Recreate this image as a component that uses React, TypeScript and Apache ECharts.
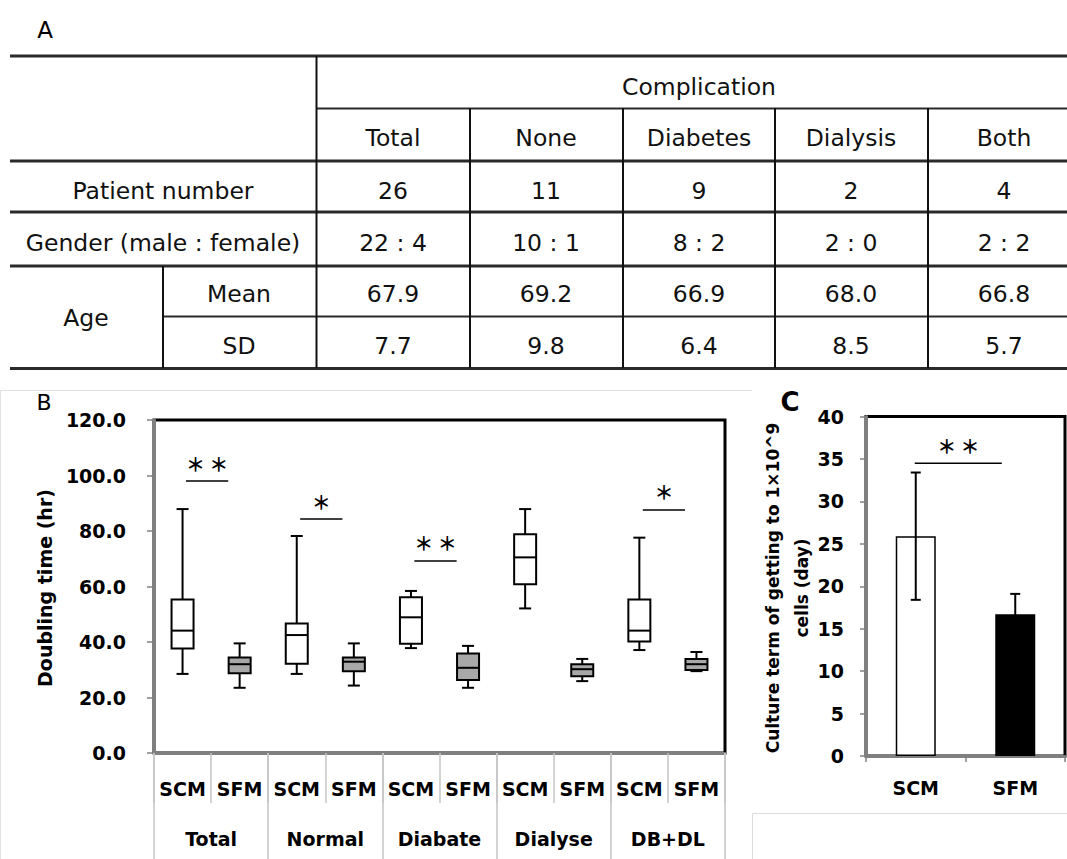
import React, { useEffect, useRef } from "react";
import * as echarts from "echarts";

// ---------- Panel A: table ----------
const TABLE_TITLE = "Complication";
const TABLE_COLS = ["Total", "None", "Diabetes", "Dialysis", "Both"];
const ROW_PATIENT = "Patient number";
const ROW_GENDER = "Gender (male : female)";
const ROW_AGE = "Age";
const ROW_MEAN = "Mean";
const ROW_SD = "SD";
const PATIENTS = ["26", "11", "9", "2", "4"];
const GENDER = ["22 : 4", "10 : 1", "8 : 2", "2 : 0", "2 : 2"];
const AGE_MEAN = ["67.9", "69.2", "66.9", "68.0", "66.8"];
const AGE_SD = ["7.7", "9.8", "6.4", "8.5", "5.7"];

// ---------- Panel B: box plot ----------
const GROUPS = ["Total", "Normal", "Diabate", "Dialyse", "DB+DL"];
const MEDIA = ["SCM", "SFM"];
// [min, Q1, median, Q3, max]
const SCM_BOX = [
  [28.5, 37.7, 44.1, 55.3, 87.9],
  [28.5, 32.2, 42.5, 46.7, 78.2],
  [37.8, 39.4, 48.9, 56.1, 58.4],
  [52.1, 60.8, 70.5, 78.8, 87.9],
  [37.1, 40.2, 44.1, 55.3, 77.6],
];
const SFM_BOX = [
  [23.5, 28.7, 32.0, 34.4, 39.5],
  [24.3, 29.5, 32.9, 34.4, 39.5],
  [23.5, 26.3, 30.7, 35.9, 38.6],
  [25.9, 27.7, 30.2, 32.0, 33.9],
  [29.5, 29.9, 32.0, 33.9, 36.4],
];
const B_SIG_GROUP = [0, 1, 2, 4];
const B_SIG_LEVEL = [98.0, 84.3, 69.2, 87.6];
const B_SIG_LABEL = ["＊ ＊", "＊", "＊ ＊", "＊"];
const B_Y_TITLE = "Doubling time (hr)";

// ---------- Panel C: bar chart ----------
const C_CATS = ["SCM", "SFM"];
const C_MEAN = [25.9, 16.7];
const C_ERR = [7.5, 2.4];
const C_SIG_LEVEL = 34.5;
const C_SIG_LABEL = "＊ ＊";
const C_Y_TITLE_1 = "Culture term of getting to 1×10^9";
const C_Y_TITLE_2 = "cells (day)";

const FONT = '"DejaVu Sans", sans-serif';
const STAR_FONT = '"Noto Sans CJK JP", sans-serif';

function buildTableGraphics(): any[] {
  const els: any[] = [];
  const dark = "#2a2a2a";
  const hLines: [number, number, number, number][] = [
    [56, 10, 1067, 3],
    [108.5, 316, 1067, 2],
    [161, 10, 1067, 3],
    [212, 10, 1067, 3],
    [266, 10, 1067, 3],
    [316.5, 163, 1067, 2],
    [368.5, 10, 1067, 3],
  ];
  hLines.forEach(([y, x1, x2, w]) =>
    els.push({ type: "line", shape: { x1, y1: y, x2, y2: y }, style: { stroke: dark, lineWidth: w } })
  );
  const vLines: [number, number, number][] = [
    [316.5, 56, 368],
    [163, 266, 368],
    [470, 108, 368],
    [623, 108, 368],
    [775, 108, 368],
    [928, 108, 368],
  ];
  vLines.forEach(([x, y1, y2]) =>
    els.push({ type: "line", shape: { x1: x, y1, x2: x, y2 }, style: { stroke: "#111", lineWidth: 2 } })
  );
  const txt = (text: string, x: number, y: number) =>
    els.push({
      type: "text",
      x,
      y,
      style: { text, fill: "#111", fontSize: 23.5, fontFamily: FONT, align: "center", verticalAlign: "middle" },
    });
  txt(TABLE_TITLE, 699, 87);
  const colX = [393, 546, 699, 851, 1004];
  TABLE_COLS.forEach((c, i) => txt(c, colX[i], 138));
  txt(ROW_PATIENT, 163, 191);
  PATIENTS.forEach((c, i) => txt(c, colX[i], 191));
  txt(ROW_GENDER, 163, 243);
  GENDER.forEach((c, i) => txt(c, colX[i], 243));
  txt(ROW_AGE, 86, 318);
  txt(ROW_MEAN, 239, 294);
  AGE_MEAN.forEach((c, i) => txt(c, colX[i], 294));
  txt(ROW_SD, 239, 346);
  AGE_SD.forEach((c, i) => txt(c, colX[i], 346));
  return els;
}

export default function App() {
  const ref = useRef<HTMLDivElement>(null);

  useEffect(() => {
    if (!ref.current) return;
    const chart = echarts.init(ref.current, undefined, { renderer: "svg" });

    const bCats: string[] = [];
    const boxData: number[][] = [];
    GROUPS.forEach((g, gi) => {
      MEDIA.forEach((m, mi) => {
        bCats.push(m);
        const v = mi === 0 ? SCM_BOX[gi] : SFM_BOX[gi];
        boxData.push([gi * 2 + mi, ...v, mi]);
      });
    });
    const bSigData = B_SIG_GROUP.map((g, i) => [g * 2, B_SIG_LEVEL[i]]);

    const axisGray = "#808080";
    const sepGray = "#c4c4c4";
    const boldLabel = { fontSize: 19, fontWeight: "bold", color: "#000", fontFamily: FONT };
    const starStyle = { fill: "#000", fontSize: 19, fontWeight: "bold", fontFamily: STAR_FONT, align: "center", verticalAlign: "middle" };

    const option: any = {
      animation: false,
      backgroundColor: "#ffffff",
      textStyle: { fontFamily: FONT },
      grid: [
        { left: 154, top: 420, width: 571, height: 333, show: true, borderColor: "#000", borderWidth: 3, backgroundColor: "rgba(0,0,0,0)" },
        { left: 866, top: 416.5, width: 199, height: 339.5, show: true, borderColor: "#000", borderWidth: 3, backgroundColor: "rgba(0,0,0,0)" },
      ],
      xAxis: [
        {
          type: "category",
          gridIndex: 0,
          data: bCats,
          axisLine: { lineStyle: { color: axisGray, width: 3 } },
          axisTick: { show: true, interval: 0, length: 50, lineStyle: { color: sepGray, width: 1.5 } },
          axisLabel: { interval: 0, margin: 26, ...boldLabel },
        },
        {
          type: "category",
          gridIndex: 0,
          position: "bottom",
          data: GROUPS,
          axisLine: { show: false },
          axisTick: { show: true, interval: 0, length: 110, lineStyle: { color: sepGray, width: 1.5 } },
          axisLabel: { interval: 0, margin: 76, ...boldLabel },
        },
        {
          type: "category",
          gridIndex: 1,
          data: C_CATS,
          axisLine: { lineStyle: { color: axisGray, width: 3 } },
          axisTick: { show: true, interval: 0, length: 6, lineStyle: { color: axisGray, width: 1.5 } },
          axisLabel: { interval: 0, margin: 22, ...boldLabel },
        },
      ],
      yAxis: [
        {
          type: "value",
          gridIndex: 0,
          min: 0,
          max: 120,
          interval: 20,
          axisLine: { show: true, lineStyle: { color: axisGray, width: 3 } },
          axisTick: { show: true, length: 7, lineStyle: { color: axisGray, width: 1.5 } },
          splitLine: { show: false },
          axisLabel: { margin: 28, formatter: (v: number) => v.toFixed(1), ...boldLabel },
        },
        {
          type: "value",
          gridIndex: 1,
          min: 0,
          max: 40,
          interval: 5,
          axisLine: { show: true, lineStyle: { color: axisGray, width: 3 } },
          axisTick: { show: true, length: 6, lineStyle: { color: axisGray, width: 1.5 } },
          splitLine: { show: false },
          axisLabel: { margin: 22, ...boldLabel },
        },
      ],
      series: [
        {
          type: "custom",
          name: "box",
          xAxisIndex: 0,
          yAxisIndex: 0,
          data: boxData,
          encode: { x: 0, y: [1, 2, 3, 4, 5] },
          renderItem: (params: any, api: any) => {
            const i = api.value(0);
            const x = api.coord([i, 0])[0];
            const yy = [1, 2, 3, 4, 5].map((d) => api.coord([i, api.value(d)])[1]);
            const fill = api.value(6) ? "#a8a8a8" : "#ffffff";
            const ls = { stroke: "#000", lineWidth: 2 };
            const hw = 11;
            const cw = 6;
            return {
              type: "group",
              children: [
                { type: "line", shape: { x1: x, y1: yy[4], x2: x, y2: yy[3] }, style: ls },
                { type: "line", shape: { x1: x, y1: yy[1], x2: x, y2: yy[0] }, style: ls },
                { type: "line", shape: { x1: x - cw, y1: yy[4], x2: x + cw, y2: yy[4] }, style: ls },
                { type: "line", shape: { x1: x - cw, y1: yy[0], x2: x + cw, y2: yy[0] }, style: ls },
                { type: "rect", shape: { x: x - hw, y: yy[3], width: hw * 2, height: yy[1] - yy[3] }, style: { fill, stroke: "#000", lineWidth: 2 } },
                { type: "line", shape: { x1: x - hw, y1: yy[2], x2: x + hw, y2: yy[2] }, style: ls },
              ],
            };
          },
        },
        {
          type: "custom",
          name: "sigB",
          xAxisIndex: 0,
          yAxisIndex: 0,
          data: bSigData,
          encode: { x: 0, y: 1 },
          renderItem: (params: any, api: any) => {
            const i = api.value(0);
            const lvl = api.value(1);
            const p1 = api.coord([i, lvl]);
            const p2 = api.coord([i + 1, lvl]);
            const d = p2[0] - p1[0];
            const xs = p1[0] + 0.06 * d;
            const xe = p1[0] + 0.8 * d;
            return {
              type: "group",
              children: [
                { type: "line", shape: { x1: xs, y1: p1[1], x2: xe, y2: p1[1] }, style: { stroke: "#000", lineWidth: 1.5 } },
                {
                  type: "text",
                  x: (xs + xe) / 2,
                  y: p1[1] - 18,
                  style: { text: B_SIG_LABEL[params.dataIndex], ...starStyle },
                },
              ],
            };
          },
        },
        {
          type: "bar",
          name: "term",
          xAxisIndex: 2,
          yAxisIndex: 1,
          barWidth: 40,
          data: C_MEAN.map((v, i) => ({ value: v, itemStyle: { color: i === 0 ? "#ffffff" : "#000000" } })),
          itemStyle: { borderColor: "#000", borderWidth: 1.5 },
        },
        {
          type: "custom",
          name: "err",
          xAxisIndex: 2,
          yAxisIndex: 1,
          data: C_MEAN.map((v, i) => [i, v, C_ERR[i]]),
          encode: { x: 0, y: 1 },
          z: 5,
          renderItem: (params: any, api: any) => {
            const i = api.value(0);
            const m = api.value(1);
            const e = api.value(2);
            const top = api.coord([i, m + e]);
            const bot = api.coord([i, m - e]);
            const ls = { stroke: "#000", lineWidth: 2 };
            return {
              type: "group",
              children: [
                { type: "line", shape: { x1: top[0], y1: top[1], x2: bot[0], y2: bot[1] }, style: ls },
                { type: "line", shape: { x1: top[0] - 5, y1: top[1], x2: top[0] + 5, y2: top[1] }, style: ls },
                { type: "line", shape: { x1: bot[0] - 5, y1: bot[1], x2: bot[0] + 5, y2: bot[1] }, style: ls },
              ],
            };
          },
        },
        {
          type: "custom",
          name: "sigC",
          xAxisIndex: 2,
          yAxisIndex: 1,
          data: [[0, C_SIG_LEVEL]],
          encode: { x: 0, y: 1 },
          renderItem: (params: any, api: any) => {
            const lvl = api.value(1);
            const p1 = api.coord([0, lvl]);
            const p2 = api.coord([1, lvl]);
            const d = p2[0] - p1[0];
            const xs = p1[0] - 0.01 * d;
            const xe = p1[0] + 0.865 * d;
            return {
              type: "group",
              children: [
                { type: "line", shape: { x1: xs, y1: p1[1], x2: xe, y2: p1[1] }, style: { stroke: "#000", lineWidth: 1.5 } },
                {
                  type: "text",
                  x: (xs + xe) / 2,
                  y: p1[1] - 18,
                  style: { text: C_SIG_LABEL, ...starStyle },
                },
              ],
            };
          },
        },
      ],
      graphic: {
        elements: [
          // faint panel borders
          { type: "line", shape: { x1: 0, y1: 390.5, x2: 752, y2: 390.5 }, style: { stroke: "#e2e2e2", lineWidth: 1 } },
          { type: "line", shape: { x1: 0.5, y1: 390, x2: 0.5, y2: 859 }, style: { stroke: "#e2e2e2", lineWidth: 1 } },
          { type: "rect", shape: { x: 752.5, y: 813.5, width: 330, height: 60 }, style: { fill: "none", stroke: "#dcdcdc", lineWidth: 1 } },
          ...buildTableGraphics(),
          // panel letters
          { type: "text", x: 45, y: 30, style: { text: "A", fill: "#000", fontSize: 23, fontFamily: FONT, align: "center", verticalAlign: "middle" } },
          { type: "text", x: 44, y: 402, style: { text: "B", fill: "#000", fontSize: 22, fontFamily: FONT, align: "center", verticalAlign: "middle" } },
          { type: "text", x: 790, y: 402, style: { text: "C", fill: "#000", fontSize: 26, fontWeight: "bold", fontFamily: FONT, align: "center", verticalAlign: "middle" } },
          // axis titles
          { type: "text", x: 45, y: 588, rotation: Math.PI / 2, style: { text: B_Y_TITLE, fill: "#000", fontSize: 19, fontWeight: "bold", fontFamily: FONT, align: "center", verticalAlign: "middle" } },
          { type: "text", x: 773, y: 588, rotation: Math.PI / 2, style: { text: C_Y_TITLE_1, fill: "#000", fontSize: 17, fontWeight: "bold", fontFamily: FONT, align: "center", verticalAlign: "middle" } },
          { type: "text", x: 802, y: 588, rotation: Math.PI / 2, style: { text: C_Y_TITLE_2, fill: "#000", fontSize: 17, fontWeight: "bold", fontFamily: FONT, align: "center", verticalAlign: "middle" } },
        ],
      },
    };

    chart.setOption(option);
    return () => chart.dispose();
  }, []);

  return (
    <div
      ref={ref}
      style={{ position: "fixed", left: 0, top: 0, width: 1067, height: 859, background: "#fff" }}
    />
  );
}
